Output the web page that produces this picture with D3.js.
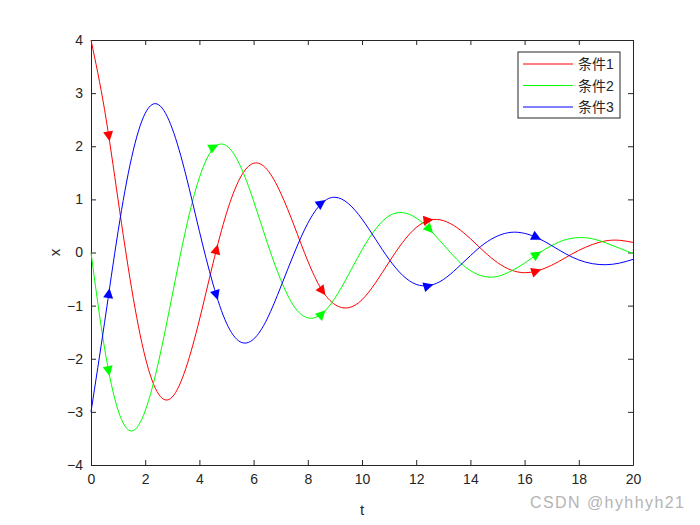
<!DOCTYPE html>
<html>
<head>
<meta charset="utf-8">
<script src="https://cdn.jsdelivr.net/npm/d3@7/dist/d3.min.js"></script>
<style>
body { margin: 0; background: #fff; }
svg { font-family: "Liberation Sans", Arial, "Noto Sans CJK SC", sans-serif; }
</style>
</head>
<body>
<script>
// sample times
var tValues = [0, 0.5, 1, 1.5, 2, 2.5, 3, 3.5, 4, 4.5, 5, 5.5, 6, 6.5, 7, 7.5, 8, 8.5, 9, 9.5,
               10, 10.5, 11, 11.5, 12, 12.5, 13, 13.5, 14, 14.5, 15, 15.5, 16, 16.5, 17, 17.5,
               18, 18.5, 19, 19.5, 20];

// x(t), one list per condition
var cond1 = [4.00, 2.69, 0.99, -0.68, -1.97, -2.67, -2.72, -2.18, -1.27, -0.21, 0.74, 1.40, 1.68, 1.56, 1.12,
             0.50, -0.16, -0.69, -0.98, -1.04, -0.89, -0.57, -0.18, 0.19, 0.47, 0.61, 0.60, 0.47, 0.26, 0.02,
             -0.19, -0.33, -0.38, -0.34, -0.24, -0.10, 0.04, 0.15, 0.22, 0.23, 0.19];
var cond2 = [0.00, -1.80, -2.97, -3.36, -2.98, -2.04, -0.80, 0.44, 1.41, 1.95, 2.01, 1.64, 0.97, 0.19, -0.51,
             -1.02, -1.23, -1.16, -0.86, -0.42, 0.05, 0.44, 0.69, 0.75, 0.65, 0.43, 0.15, -0.13, -0.34, -0.45,
             -0.45, -0.35, -0.20, -0.02, 0.13, 0.24, 0.28, 0.26, 0.18, 0.08, -0.02];
var cond3 = [-3.00, -1.32, 0.40, 1.79, 2.62, 2.78, 2.33, 1.46, 0.40, -0.59, -1.33, -1.68, -1.63, -1.25, -0.65,
             -0.01, 0.55, 0.92, 1.04, 0.92, 0.63, 0.25, -0.13, -0.43, -0.60, -0.62, -0.51, -0.30, -0.06, 0.16,
             0.31, 0.38, 0.36, 0.27, 0.13, -0.02, -0.14, -0.21, -0.23, -0.20, -0.13];

var seriesNames = ["条件1", "条件2", "条件3"];
var seriesColors = ["#ff0000", "#00ff00", "#0000ff"];
// times where the direction arrows sit
var arrowT = [0.68, 4.67, 8.63, 12.6, 16.58];

var xTicks = [0, 2, 4, 6, 8, 10, 12, 14, 16, 18, 20];
var yTicks = [-4, -3, -2, -1, 0, 1, 2, 3, 4];

var WIDTH = 700, HEIGHT = 525;
var MARGIN = { TOP: 40, RIGHT: 67, BOTTOM: 60, LEFT: 91 };
var plotW = WIDTH - MARGIN.LEFT - MARGIN.RIGHT;
var plotH = HEIGHT - MARGIN.TOP - MARGIN.BOTTOM;
var axisColor = "#262626";

var svg = d3.select("body").append("svg")
    .attr("width", WIDTH)
    .attr("height", HEIGHT);

var g = svg.append("g")
    .attr("transform", "translate(" + MARGIN.LEFT + "," + MARGIN.TOP + ")");

var xScale = d3.scaleLinear().domain([0, 20]).range([0, plotW]);
var yScale = d3.scaleLinear().domain([-4, 4]).range([plotH, 0]);

// box + inward ticks on all four sides
var xBottom = d3.axisBottom(xScale).tickValues(xTicks).tickSizeInner(-5).tickSizeOuter(0).tickPadding(9);
var xTop = d3.axisTop(xScale).tickValues(xTicks).tickSizeInner(-5).tickSizeOuter(0).tickFormat("");
var yLeft = d3.axisLeft(yScale).tickValues(yTicks).tickSizeInner(-5).tickSizeOuter(0).tickPadding(8);
var yRight = d3.axisRight(yScale).tickValues(yTicks).tickSizeInner(-5).tickSizeOuter(0).tickFormat("");

function styleAxis(sel)
{
    sel.selectAll("path").attr("stroke", axisColor).attr("stroke-width", 1);
    sel.selectAll("line").attr("stroke", axisColor).attr("stroke-width", 1);
    sel.selectAll("text").attr("fill", axisColor).style("font-size", "14px")
        .style("font-family", "'Liberation Sans', Arial, sans-serif");
}

g.append("g").attr("transform", "translate(0," + plotH + ")").call(xBottom).call(styleAxis);
g.append("g").call(xTop).call(styleAxis);
g.append("g").call(yLeft).call(styleAxis);
g.append("g").attr("transform", "translate(" + plotW + ",0)").call(yRight).call(styleAxis);

// axis labels
svg.append("text")
    .attr("x", MARGIN.LEFT + plotW / 2)
    .attr("y", 515)
    .attr("text-anchor", "middle")
    .attr("fill", axisColor)
    .style("font-size", "15px")
    .text("t");

svg.append("text")
    .attr("transform", "translate(60," + (MARGIN.TOP + plotH / 2) + ") rotate(-90)")
    .attr("text-anchor", "middle")
    .attr("fill", axisColor)
    .style("font-size", "15px")
    .text("x");

// curves
var allSeries = [cond1, cond2, cond3];
var line = d3.line()
    .x(function(d, i) { return xScale(tValues[i]); })
    .y(function(d) { return yScale(d); })
    .curve(d3.curveNatural);

var paths = [];
for (var s = 0; s < allSeries.length; s++)
{
    var p = g.append("path")
        .datum(allSeries[s])
        .attr("fill", "none")
        .attr("stroke", seriesColors[s])
        .attr("stroke-width", 1)
        .attr("d", line);
    paths.push(p);
}

// direction arrows: apex sits on the curve at the given t
var findLength = function(node, px)
{
    var lo = 0, hi = node.getTotalLength();
    for (var k = 0; k < 40; k++)
    {
        var mid = (lo + hi) / 2;
        if (node.getPointAtLength(mid).x < px) lo = mid; else hi = mid;
    }
    return (lo + hi) / 2;
};

for (var s = 0; s < paths.length; s++)
{
    var node = paths[s].node();
    for (var a = 0; a < arrowT.length; a++)
    {
        var len = findLength(node, xScale(arrowT[a]));
        var pt = node.getPointAtLength(len);
        var p0 = node.getPointAtLength(Math.max(0, len - 2));
        var p1 = node.getPointAtLength(len + 2);
        var ang = Math.atan2(p1.y - p0.y, p1.x - p0.x) * 180 / Math.PI;
        g.append("path")
            .attr("d", "M1,0 L-9,-5 L-9,5 Z")
            .attr("fill", seriesColors[s])
            .attr("transform", "translate(" + pt.x + "," + pt.y + ") rotate(" + ang + ")");
    }
}

// legend
var legend = svg.append("g").attr("transform", "translate(518,52)");
legend.append("rect")
    .attr("width", 102)
    .attr("height", 66)
    .attr("fill", "#fff")
    .attr("stroke", axisColor)
    .attr("stroke-width", 1);

for (var s = 0; s < seriesNames.length; s++)
{
    var ly = 12 + s * 21.5;
    legend.append("line")
        .attr("x1", 5).attr("x2", 55)
        .attr("y1", ly).attr("y2", ly)
        .attr("stroke", seriesColors[s])
        .attr("stroke-width", 1);
    legend.append("text")
        .attr("x", 60)
        .attr("y", ly + 5)
        .attr("fill", axisColor)
        .style("font-size", "14px")
        .text(seriesNames[s]);
}

// watermark
svg.append("text")
    .attr("x", 530)
    .attr("y", 508)
    .attr("fill", "#b4b4b4")
    .attr("textLength", 154)
    .style("font-size", "16px")
    .text("CSDN @hyhhyh21");
</script>
</body>
</html>
